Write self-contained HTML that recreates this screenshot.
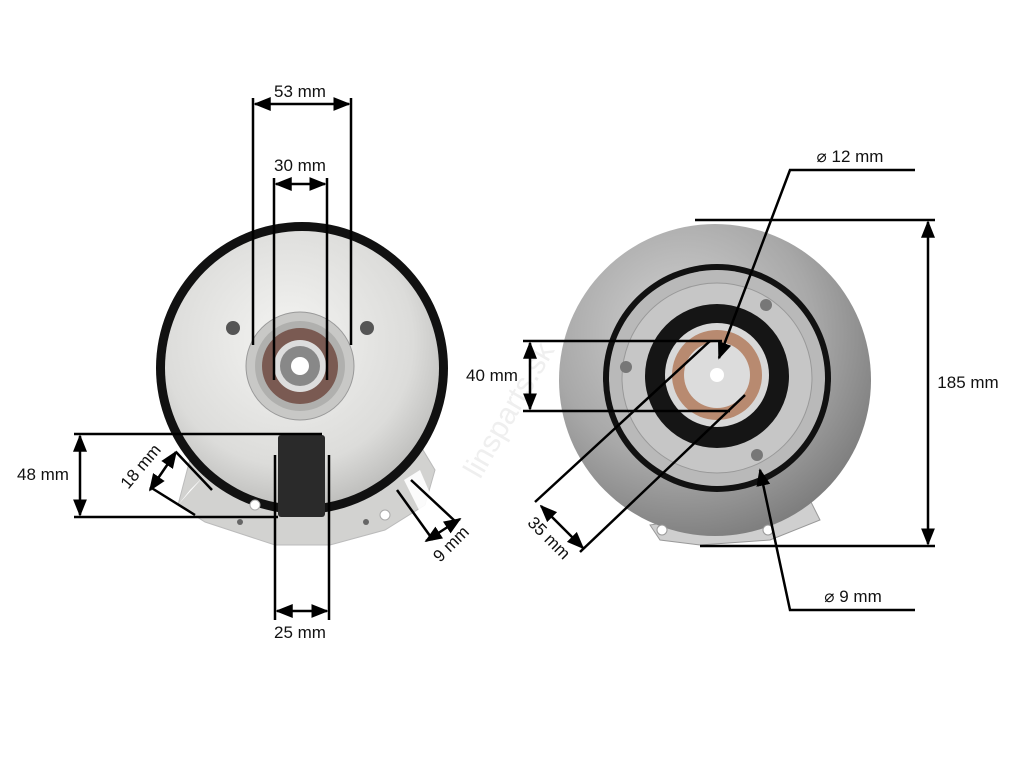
<!DOCTYPE html>
<html><head><meta charset="utf-8"><style>
html,body{margin:0;padding:0;background:#fff}
svg{display:block}
text{font-family:"Liberation Sans",sans-serif;font-size:17px;fill:#111}
</style></head><body>
<svg width="1024" height="768" viewBox="0 0 1024 768" xmlns="http://www.w3.org/2000/svg">
<defs>
<marker id="a" viewBox="0 0 10 10" refX="9" refY="5" markerWidth="7" markerHeight="7" orient="auto-start-reverse"><path d="M0,1 L10,5 L0,9 z" fill="#000"/></marker>
<radialGradient id="sl" cx="45%" cy="40%" r="65%"><stop offset="0" stop-color="#f4f4f2"/><stop offset="0.7" stop-color="#dcdcda"/><stop offset="1" stop-color="#b8b8b6"/></radialGradient>
<radialGradient id="dk" cx="40%" cy="35%" r="70%"><stop offset="0" stop-color="#d4d4d4"/><stop offset="0.6" stop-color="#a8a8a8"/><stop offset="1" stop-color="#7a7a7a"/></radialGradient>
</defs>
<path d="M195,440 L178,505 L205,522 L275,545 L330,545 L385,530 L425,505 L435,470 L420,445 Z" fill="#d2d2d0" stroke="#bbb"/>
<circle cx="302" cy="368" r="146" fill="#111"/>
<circle cx="302" cy="368" r="137" fill="url(#sl)"/>
<circle cx="233" cy="328" r="7" fill="#555"/><circle cx="367" cy="328" r="7" fill="#555"/>
<circle cx="300" cy="366" r="54" fill="#c8c8c6" stroke="#999"/>
<circle cx="300" cy="366" r="45" fill="#b0b0ae"/>
<circle cx="300" cy="366" r="38" fill="#7a5a52"/>
<circle cx="300" cy="366" r="26" fill="#ddd"/>
<circle cx="300" cy="366" r="20" fill="#888"/>
<circle cx="300" cy="366" r="9" fill="#fff"/>
<rect x="278" y="435" width="47" height="82" rx="3" fill="#2a2a2a"/>
<circle cx="255" cy="505" r="5" fill="#fff" stroke="#aaa"/><circle cx="385" cy="515" r="5" fill="#fff" stroke="#aaa"/>
<circle cx="240" cy="522" r="3" fill="#666"/><circle cx="366" cy="522" r="3" fill="#666"/>
<path d="M190,490 L205,475 L178,505 Z" fill="#fff"/>
<path d="M404,480 L420,470 L435,505 L420,512 Z" fill="#fff" opacity="0.9"/>
<path d="M650,525 L660,540 L700,545 L770,540 L820,520 L810,500 Z" fill="#cfcfcf" stroke="#999"/>
<circle cx="715" cy="380" r="156" fill="url(#dk)"/>
<circle cx="717" cy="378" r="114" fill="#111"/>
<circle cx="717" cy="378" r="108" fill="#b9b9b9"/>
<circle cx="717" cy="378" r="95" fill="#c6c6c6" stroke="#999"/>
<circle cx="717" cy="376" r="72" fill="#151515"/>
<circle cx="717" cy="375" r="52" fill="#d8d8d8"/>
<circle cx="717" cy="375" r="45" fill="#b88a70"/>
<circle cx="717" cy="375" r="33" fill="#dcdcdc"/>
<circle cx="717" cy="375" r="7" fill="#fff"/>
<circle cx="626" cy="367" r="6" fill="#777"/><circle cx="766" cy="305" r="6" fill="#777"/><circle cx="757" cy="455" r="6" fill="#777"/>
<circle cx="662" cy="530" r="5" fill="#fff" stroke="#999"/><circle cx="768" cy="530" r="5" fill="#fff" stroke="#999"/>
<text x="480" y="480" transform="rotate(-60 480 480)" style="fill:#efefef;font-size:30px">linsparts.sk</text>
<g stroke="#000" stroke-width="2.5" fill="none">
<line x1="253" y1="98" x2="253" y2="345"/><line x1="351" y1="98" x2="351" y2="345"/>
<line x1="255" y1="104" x2="349" y2="104" marker-start="url(#a)" marker-end="url(#a)"/>
<line x1="274" y1="178" x2="274" y2="380"/><line x1="327" y1="178" x2="327" y2="380"/>
<line x1="276" y1="184" x2="325" y2="184" marker-start="url(#a)" marker-end="url(#a)"/>
<line x1="74" y1="434" x2="322" y2="434"/><line x1="74" y1="517" x2="278" y2="517"/>
<line x1="80" y1="436" x2="80" y2="515" marker-start="url(#a)" marker-end="url(#a)"/>
<line x1="176" y1="452" x2="212" y2="490"/><line x1="150" y1="487" x2="195" y2="515"/>
<line x1="176" y1="452" x2="150" y2="490" marker-start="url(#a)" marker-end="url(#a)"/>
<line x1="275" y1="455" x2="275" y2="620"/><line x1="329" y1="455" x2="329" y2="620"/>
<line x1="277" y1="611" x2="327" y2="611" marker-start="url(#a)" marker-end="url(#a)"/>
<line x1="397" y1="490" x2="433" y2="540"/><line x1="411" y1="480" x2="456" y2="522"/>
<line x1="426" y1="541" x2="460" y2="519" marker-start="url(#a)" marker-end="url(#a)"/>
<polyline points="915,170 790,170 719,358" marker-end="url(#a)"/>
<line x1="695" y1="220" x2="935" y2="220"/><line x1="700" y1="546" x2="935" y2="546"/>
<line x1="928" y1="222" x2="928" y2="544" marker-start="url(#a)" marker-end="url(#a)"/>
<line x1="523" y1="341" x2="722" y2="341"/><line x1="523" y1="411" x2="730" y2="411"/>
<line x1="530" y1="343" x2="530" y2="409" marker-start="url(#a)" marker-end="url(#a)"/>
<line x1="535" y1="502" x2="710" y2="341"/><line x1="580" y1="552" x2="745" y2="395"/>
<line x1="541" y1="506" x2="583" y2="548" marker-start="url(#a)" marker-end="url(#a)"/>
<polyline points="915,610 790,610 760,470" marker-end="url(#a)"/>
</g>
<text x="300" y="97" text-anchor="middle">53 mm</text>
<text x="300" y="171" text-anchor="middle">30 mm</text>
<text x="43" y="480" text-anchor="middle">48 mm</text>
<text x="300" y="638" text-anchor="middle">25 mm</text>
<text x="145" y="470" text-anchor="middle" transform="rotate(-50 145 470)">18 mm</text>
<text x="455" y="548" text-anchor="middle" transform="rotate(-45 455 548)">9 mm</text>
<text x="850" y="162" text-anchor="middle">⌀ 12 mm</text>
<text x="968" y="388" text-anchor="middle">185 mm</text>
<text x="492" y="381" text-anchor="middle">40 mm</text>
<text x="545" y="542" text-anchor="middle" transform="rotate(45 545 542)">35 mm</text>
<text x="853" y="602" text-anchor="middle">⌀ 9 mm</text>
</svg>
</body></html>
